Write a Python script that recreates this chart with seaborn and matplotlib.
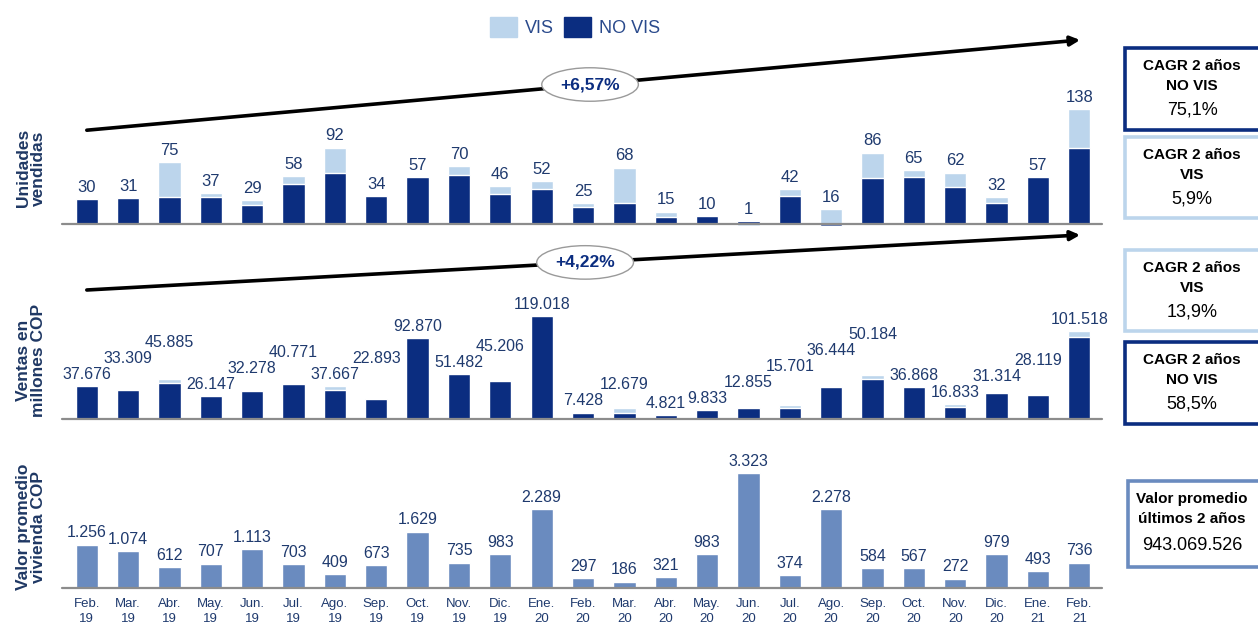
import numpy as np
import pandas as pd
import matplotlib
matplotlib.use("Agg")
import matplotlib.pyplot as plt
import seaborn as sns
from matplotlib.patches import Patch, Rectangle

# ---------------------------------------------------------------- data
months = ["Feb.\n19", "Mar.\n19", "Abr.\n19", "May.\n19", "Jun.\n19", "Jul.\n19",
          "Ago.\n19", "Sep.\n19", "Oct.\n19", "Nov.\n19", "Dic.\n19", "Ene.\n20",
          "Feb.\n20", "Mar.\n20", "Abr.\n20", "May.\n20", "Jun.\n20", "Jul.\n20",
          "Ago.\n20", "Sep.\n20", "Oct.\n20", "Nov.\n20", "Dic.\n20", "Ene.\n21",
          "Feb.\n21"]

# Unidades vendidas: total and VIS share (NO VIS = total - VIS)
units_total = [30, 31, 75, 37, 29, 58, 92, 34, 57, 70, 46, 52, 25, 68, 15, 10, 1,
               42, 16, 86, 65, 62, 32, 57, 138]
units_vis = [0, 0, 42, 5, 6, 10, 31, 0, 0, 11, 10, 10, 5, 43, 6, 0, -2, 8, 18,
             30, 8, 18, 7, 0, 46]

# Ventas en millones COP: total and VIS share
sales_total = [37676, 33309, 45885, 26147, 32278, 40771, 37667, 22893, 92870,
               51482, 45206, 119018, 7428, 12679, 4821, 9833, 12855, 15701,
               36444, 50184, 36868, 16833, 31314, 28119, 101518]
sales_vis = [0, 0, 4900, 0, 0, 0, 3900, 0, 0, 0, 1000, 0, 0, 5800, 0, 0, 0,
             3000, 0, 4100, 0, 3000, 800, 0, 6500]

# Valor promedio vivienda COP
avg_price = [1256, 1074, 612, 707, 1113, 703, 409, 673, 1629, 735, 983, 2289,
             297, 186, 321, 983, 3323, 374, 2278, 584, 567, 272, 979, 493, 736]

trend_units = "+6,57%"
trend_sales = "+4,22%"

box_titles = ["CAGR 2 años", "CAGR 2 años", "CAGR 2 años", "CAGR 2 años",
              "Valor promedio"]
box_subtitles = ["NO VIS", "VIS", "VIS", "NO VIS", "últimos 2 años"]
box_values = ["75,1%", "5,9%", "13,9%", "58,5%", "943.069.526"]

panel_titles = ["Unidades\nvendidas", "Ventas en\nmillones COP",
                "Valor promedio\nvivienda COP"]

# ---------------------------------------------------------------- style
DARK = "#0b2d80"
LIGHT = "#bcd5ec"
STEEL = "#6a8bbf"
LBL = "#1f3a6e"
TITLE = "#1f3864"
AXIS = "#8c8c8c"

sns.set_style("white")
plt.rcParams["font.family"] = ["Liberation Sans", "DejaVu Sans"]

W, H = 1258, 626
fig = plt.figure(figsize=(W / 100, H / 100), dpi=100)


def fx(x):
    return x / W


def fy(y):
    return 1 - y / H


def axes_px(left, top, right, bottom):
    return fig.add_axes([fx(left), fy(bottom), (right - left) / W, (bottom - top) / H])


def thousands(v):
    return f"{v:,}".replace(",", ".")


def style_axis(ax, ylim, show_ticks=False):
    ax.set_xlim(-0.6, 24.55)
    ax.set_ylim(*ylim)
    ax.set_xlabel("")
    ax.set_ylabel("")
    ax.set_yticks([])
    sns.despine(ax=ax, left=True, bottom=True)
    ax.set_facecolor("none")
    ax.axhline(0, color=AXIS, lw=1.6, zorder=4, clip_on=False)
    if not show_ticks:
        ax.set_xticks([])
    ax.tick_params(length=0)


def stacked(ax, total, vis):
    total = np.asarray(total)
    vis = np.asarray(vis)
    novis = total - vis
    up = np.clip(novis, 0, None) + np.clip(vis, 0, None)
    down = np.clip(novis, None, 0) + np.clip(vis, None, 0)
    df = pd.DataFrame({"mes": months, "up": up, "down": down, "novis": novis})
    for col, colr in (("up", LIGHT), ("down", LIGHT), ("novis", DARK)):
        sns.barplot(data=df, x="mes", y=col, color=colr, width=0.54,
                    saturation=1, errorbar=None, ax=ax)
    return up


# ---------------------------------------------------------------- units panel
ax1 = axes_px(62, 100, 1102, 240)
top1 = stacked(ax1, units_total, units_vis)
style_axis(ax1, (-19.3, 149.4))
for i, (t, u) in enumerate(zip(units_total, top1)):
    ax1.annotate(str(t), (i, max(u, 0)), xytext=(0, 3), textcoords="offset points",
                 ha="center", va="bottom", fontsize=12, color=LBL)

# ---------------------------------------------------------------- sales panel
ax2 = axes_px(62, 295, 1102, 432)
top2 = stacked(ax2, sales_total, sales_vis)
style_axis(ax2, (-14994, 143022))
sales_labels = []
for i, (t, u) in enumerate(zip(sales_total, top2)):
    sales_labels.append(
        ax2.annotate(thousands(t), (i, max(u, 0)), xytext=(0, 3),
                     textcoords="offset points", ha="center", va="bottom",
                     fontsize=11.5, color=LBL))

# ---------------------------------------------------------------- price panel
ax3 = axes_px(62, 465, 1102, 588)
sns.barplot(x=months, y=avg_price, color=STEEL, width=0.54, saturation=1,
            errorbar=None, ax=ax3)
style_axis(ax3, (0, 3555), show_ticks=True)
ax3.set_xticks(range(len(months)))
ax3.set_xticklabels(months, fontsize=9.5, color=LBL, linespacing=1.4)
ax3.tick_params(axis="x", pad=7)
for i, v in enumerate(avg_price):
    ax3.annotate(thousands(v), (i, v), xytext=(0, 3), textcoords="offset points",
                 ha="center", va="bottom", fontsize=11.5, color=LBL)

# ---------------------------------------------------------------- trend arrows
arrow_kw = dict(arrowstyle="-|>", color="black", lw=2.6, mutation_scale=14,
                shrinkA=0, shrinkB=0)
ellipse_kw = dict(boxstyle="ellipse,pad=0.25", fc="white", ec="#9a9a9a", lw=1.0)

x_end = 24.02
y0, y1 = 113, 221.7
ax1.annotate("", xy=(x_end, y1), xytext=(0, y0), arrowprops=arrow_kw,
             annotation_clip=False, zorder=6)
xm = 12.17
ax1.text(xm, y0 + (y1 - y0) * xm / x_end, trend_units, ha="center", va="center",
         fontsize=12.5, fontweight="bold", color=DARK, bbox=ellipse_kw, zorder=10)

y0, y1 = 148789, 212226
ax2.annotate("", xy=(x_end, y1), xytext=(0, y0), arrowprops=arrow_kw,
             annotation_clip=False, zorder=6)
xm = 12.05
ax2.text(xm, y0 + (y1 - y0) * xm / x_end, trend_sales, ha="center", va="center",
         fontsize=12.5, fontweight="bold", color=DARK, bbox=ellipse_kw, zorder=10)

# ---------------------------------------------------------------- panel titles
for text, yc in zip(panel_titles, (168, 360, 527)):
    fig.text(fx(31), fy(yc), text, rotation=90, ha="center", va="center",
             fontsize=12.5, fontweight="bold", color=TITLE, linespacing=1.05)

# ---------------------------------------------------------------- legend
fig.legend(handles=[Patch(color=LIGHT), Patch(color=DARK)], labels=["VIS", "NO VIS"],
           loc="center", bbox_to_anchor=(fx(575), fy(27)), ncol=2, frameon=False,
           fontsize=13, handlelength=1.5, handleheight=1.3, columnspacing=0.6,
           handletextpad=0.4, labelcolor="#2a4a8c")

# ---------------------------------------------------------------- side boxes
box_geom = [(1125, 48, 130, DARK), (1125, 137, 218, LIGHT), (1125, 250, 331, LIGHT),
            (1125, 342, 424, DARK), (1128, 481, 567, STEEL)]
for (x0, ytop, ybot, ec), t1, t2, val in zip(box_geom, box_titles, box_subtitles,
                                             box_values):
    fig.add_artist(Rectangle((fx(x0), fy(ybot)), 150 / W, (ybot - ytop) / H,
                             transform=fig.transFigure, fc="white", ec=ec,
                             lw=2.6, clip_on=False))
    cx = fx(1192)
    val_dy = 64 if t1.startswith("Valor") else 62
    fig.text(cx, fy(ytop + 18), t1, ha="center", va="center", fontsize=11,
             fontweight="bold", color="black")
    fig.text(cx, fy(ytop + 38), t2, ha="center", va="center", fontsize=11,
             fontweight="bold", color="black")
    fig.text(cx, fy(ytop + val_dy), val, ha="center", va="center", fontsize=13,
             color="black")

# ---------------------------------------------------------------- stagger crowded sales labels
fig.canvas.draw()
renderer = fig.canvas.get_renderer()
prev = None
for lab in sales_labels:
    bb = lab.get_window_extent(renderer)
    if prev is not None and bb.x0 < prev.x1 - 3 and bb.y0 < prev.y1 and bb.y1 > prev.y0:
        lift = (prev.y1 - bb.y0 + 1) * 72 / fig.dpi
        lab.xyann = (0, lab.xyann[1] + lift)
        bb = lab.get_window_extent(renderer)
    prev = bb

fig.savefig("out.png", dpi=100)
